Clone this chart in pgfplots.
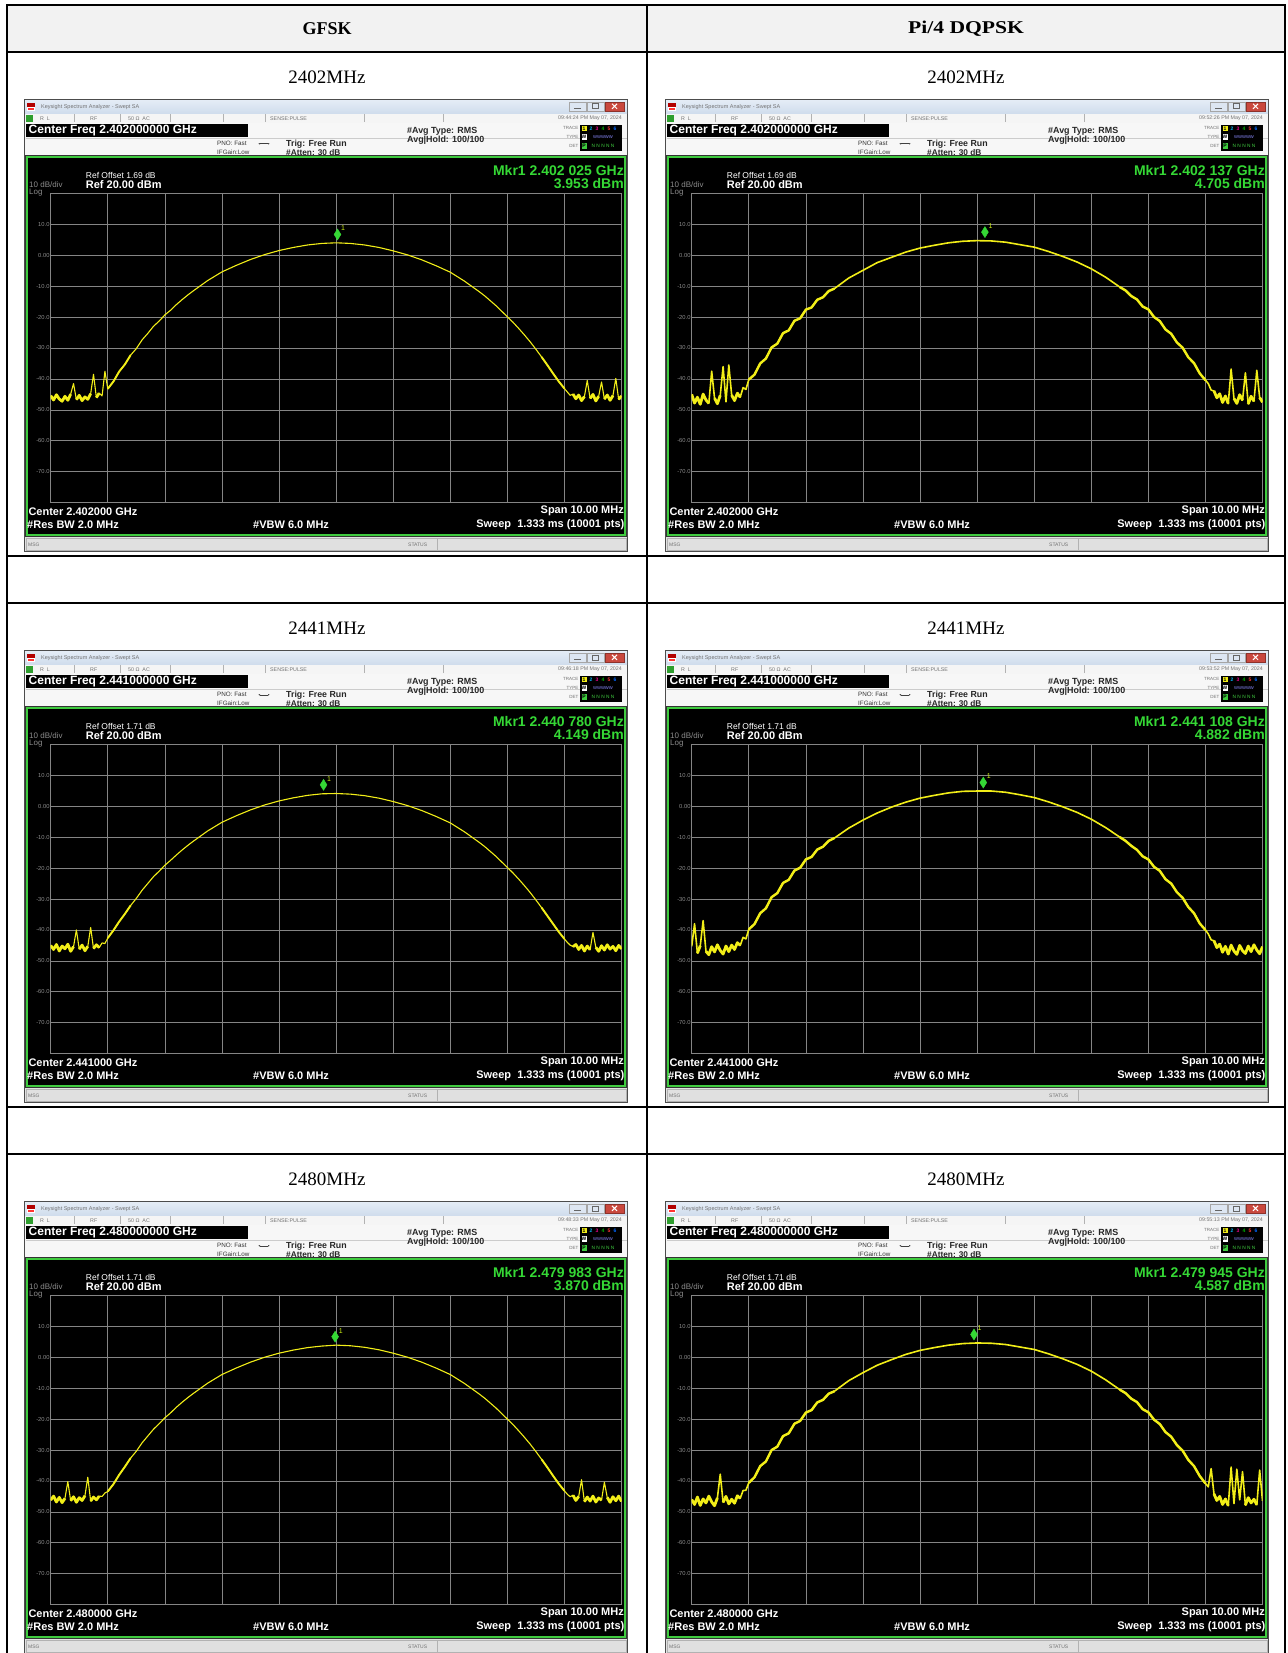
\documentclass[border=0pt]{standalone}
\usepackage{pgfplots}
\pgfplotsset{compat=1.18}
\usepackage{pgfplotstable}
\usetikzlibrary{arrows.meta}
\usepackage{fontspec}
\setmainfont{Liberation Serif}
\newfontfamily\arial{Liberation Sans}
\newcommand{\fs}[1]{\fontsize{#1}{#1}\selectfont}
\definecolor{hdrbg}{HTML}{F2F2F2}
\definecolor{tbTop}{HTML}{E4ECF6}
\definecolor{tbBot}{HTML}{CFDCEC}
\definecolor{closeR}{HTML}{C9483E}
\definecolor{lxi}{HTML}{2E9E2E}
\definecolor{frameG}{HTML}{3FCB3F}
\definecolor{mkgreen}{HTML}{35D835}
\definecolor{tr}{HTML}{F2EE18}
\definecolor{gridgray}{HTML}{858585}
\definecolor{labgray}{HTML}{8C8C8C}

\pgfplotstableread{
x g1 q1 g2 q2 g3 q3
-5.00 -45.4 -45.0 -45.0 -45.3 -46.2 -46.0
-4.95 -46.8 -47.8 -46.3 -38.0 -44.9 -47.6
-4.90 -45.1 -45.9 -44.7 -47.5 -46.8 -45.2
-4.85 -46.5 -48.2 -46.8 -45.1 -45.3 -47.9
-4.80 -47.2 -44.9 -45.2 -37.0 -47.0 -45.8
-4.75 -45.6 -46.8 -46.1 -46.9 -45.6 -47.1
-4.70 -46.9 -47.9 -44.6 -48.0 -40.2 -44.9
-4.65 -44.9 -37.5 -46.9 -45.4 -46.4 -46.8
-4.60 -41.5 -46.2 -45.4 -47.1 -45.1 -48.0
-4.55 -46.7 -48.0 -40.0 -44.8 -46.9 -45.5
-4.50 -45.3 -45.3 -46.2 -46.6 -45.4 -37.8
-4.45 -47.0 -36.0 -44.9 -47.8 -46.3 -46.9
-4.40 -45.8 -47.4 -46.7 -45.2 -44.8 -45.0
-4.35 -46.6 -35.5 -45.3 -47.0 -38.8 -47.4
-4.30 -44.8 -45.2 -39.2 -44.9 -46.5 -45.9
-4.25 -38.5 -47.0 -46.0 -46.3 -45.2 -47.2
-4.20 -46.0 -44.6 -44.8 -44.1 -46.1 -44.8
-4.15 -44.6 -45.9 -45.7 -45.0 -44.9 -45.6
-4.10 -45.5 -42.8 -44.2 -42.4 -45.0 -43.1
-4.05 -37.5 -43.4 -44.4 -42.9 -43.9 -43.0
-4.00 -43.2 -40.2 -42.6 -39.8 -43.4 -40.6
-3.90 -40.8 -38.6 -40.1 -38.1 -41.0 -38.8
-3.80 -37.6 -35.0 -37.3 -34.6 -38.0 -35.2
-3.70 -35.3 -33.4 -34.8 -33.0 -35.4 -33.7
-3.60 -32.3 -29.8 -32.1 -29.4 -32.6 -30.0
-3.50 -30.2 -28.6 -29.8 -28.1 -30.4 -28.9
-3.40 -27.4 -25.2 -27.2 -24.8 -27.7 -25.5
-3.30 -25.3 -24.3 -25.0 -23.8 -25.5 -24.6
-3.20 -23.0 -21.2 -22.8 -20.8 -23.3 -21.5
-3.10 -21.3 -20.4 -21.0 -19.9 -21.5 -20.6
-3.00 -19.3 -17.6 -19.1 -17.2 -19.6 -17.9
-2.90 -17.8 -16.9 -17.5 -16.4 -18.0 -17.1
-2.80 -16.0 -14.4 -15.8 -14.0 -16.2 -14.6
-2.70 -14.4 -13.6 -14.2 -13.1 -14.6 -13.8
-2.60 -12.9 -11.6 -12.7 -11.2 -13.1 -11.8
-2.50 -11.5 -10.8 -11.3 -10.3 -11.7 -11.0
-2.25 -8.2 -7.4 -8.0 -7.1 -8.4 -7.6
-2.00 -5.4 -4.9 -5.2 -4.5 -5.6 -5.0
-1.75 -3.3 -2.4 -3.1 -2.2 -3.5 -2.6
-1.50 -1.4 -0.7 -1.2 -0.3 -1.6 -0.8
-1.25 0.2 1.0 0.4 1.3 0.0 0.9
-1.00 1.5 2.3 1.7 2.6 1.3 2.2
-0.75 2.5 3.2 2.7 3.5 2.3 3.1
-0.50 3.3 4.0 3.5 4.3 3.1 3.9
-0.25 3.8 4.5 4.0 4.8 3.6 4.4
0.00 4.0 4.7 4.1 4.9 3.9 4.6
0.25 3.8 4.6 3.9 4.9 3.7 4.5
0.50 3.3 4.2 3.4 4.5 3.2 4.1
0.75 2.5 3.4 2.6 3.7 2.4 3.3
1.00 1.4 2.6 1.5 2.8 1.3 2.5
1.25 0.1 1.2 0.2 1.4 0.0 1.1
1.50 -1.5 -0.4 -1.4 -0.2 -1.6 -0.5
1.75 -3.4 -2.2 -3.3 -2.0 -3.5 -2.3
2.00 -5.5 -4.4 -5.4 -4.2 -5.6 -4.5
2.25 -8.4 -7.1 -8.3 -6.9 -8.5 -7.3
2.50 -11.7 -10.3 -11.6 -10.0 -11.8 -10.5
2.60 -13.1 -11.4 -13.0 -11.2 -13.2 -11.6
2.70 -14.7 -13.2 -14.6 -12.8 -14.8 -13.4
2.80 -16.3 -14.3 -16.2 -14.1 -16.4 -14.5
2.90 -18.1 -16.6 -18.0 -16.2 -18.2 -16.8
3.00 -19.9 -17.5 -19.8 -17.2 -20.0 -17.8
3.10 -21.7 -20.0 -21.6 -19.6 -21.8 -20.2
3.20 -23.7 -21.3 -23.6 -20.9 -23.8 -21.6
3.30 -25.8 -24.0 -25.7 -23.6 -25.9 -24.2
3.40 -28.0 -25.4 -27.9 -25.0 -28.1 -25.7
3.50 -30.4 -28.2 -30.3 -27.8 -30.5 -28.4
3.60 -32.9 -29.9 -32.8 -29.6 -33.0 -30.2
3.70 -35.5 -33.0 -35.4 -32.6 -35.6 -33.2
3.80 -38.2 -34.9 -38.0 -34.6 -38.3 -35.2
3.90 -40.8 -38.2 -40.6 -37.9 -40.9 -38.4
4.00 -43.1 -40.4 -42.9 -40.0 -43.2 -40.8
4.05 -44.2 -41.5 -44.0 -41.3 -44.3 -41.9
4.10 -45.3 -43.6 -44.9 -43.2 -45.1 -36.0
4.15 -44.9 -43.9 -45.4 -43.5 -44.6 -44.2
4.20 -46.4 -46.1 -44.7 -45.7 -46.3 -46.3
4.25 -45.2 -44.8 -46.3 -44.6 -45.0 -45.0
4.30 -47.0 -47.6 -45.0 -47.2 -39.6 -47.6
4.35 -45.7 -45.5 -46.8 -45.3 -46.7 -45.8
4.40 -40.5 -48.0 -45.2 -47.8 -45.2 -48.0
4.45 -46.3 -36.8 -46.4 -44.9 -46.5 -35.5
4.50 -45.0 -46.3 -40.8 -46.8 -44.9 -47.3
4.55 -47.1 -47.9 -45.6 -47.9 -46.8 -36.2
4.60 -45.6 -45.1 -46.9 -45.0 -45.5 -46.1
4.65 -41.0 -46.9 -45.1 -46.7 -46.2 -37.0
4.70 -46.5 -38.0 -46.5 -47.6 -40.4 -47.8
4.75 -45.2 -48.1 -44.8 -45.2 -45.3 -45.4
4.80 -46.9 -45.6 -46.2 -47.0 -46.9 -47.1
4.85 -45.4 -47.2 -45.3 -44.8 -45.1 -45.9
4.90 -39.8 -37.2 -46.7 -46.5 -46.4 -47.7
4.95 -46.6 -46.0 -45.0 -47.7 -44.9 -36.5
5.00 -45.5 -47.5 -46.1 -45.4 -46.6 -46.4
}\spectab

\pgfplotsset{specaxis/.style={
  width=570.8pt, height=309.4pt, scale only axis,
  xmin=-5, xmax=5, ymin=-80, ymax=20,
  xtick={-4,-3,...,4}, ytick={-70,-60,...,10},
  xticklabels={},
  yticklabels={-70.0,-60.0,-50.0,-40.0,-30.0,-20.0,-10.0,0.00,10.0},
  yticklabel style={font=\arial\fs{5.8}, text=labgray, inner sep=1pt},
  grid=major, major grid style={draw=gridgray, line width=0.7pt},
  axis line style={draw=gridgray, line width=0.8pt},
  major tick length=0pt,
  axis background/.style={fill=black},
  clip=true}}

% screenshot chrome: #1 x, #2 y, #3 centre long, #4 centre short, #5 ref offset, #6 mkr freq, #7 mkr val, #8 date
\newcommand{\chrome}[8]{%
\begin{scope}[x=1pt,y=1pt,shift={(#1,-#2)}]
\fill[black!70] (0,0) rectangle (604,-453);
\fill[black!80] (1,-56) rectangle (603,-438);
\shade[top color=tbTop, bottom color=tbBot] (1,-1) rectangle (603,-14.5);
\fill[red!70!black] (3,-3.5) rectangle (11,-7.5);
\fill[white] (3,-7.5) rectangle (11,-11.5);
\fill[red!80] (4,-9) rectangle (10,-10.5);
\node[anchor=west,inner sep=0,font=\arial\fs{5.5},text=black!55] at (17,-7.5) {Keysight Spectrum Analyzer - Swept SA};
\draw[black!35,fill=tbBot!70!white] (545,-2.5) rectangle (562,-11.5);
\draw[black!60,line width=0.8pt] (550,-9) -- (557,-9);
\draw[black!35,fill=tbBot!70!white] (563,-2.5) rectangle (580,-11.5);
\draw[black!60,line width=0.6pt] (568.5,-4.5) rectangle (574.5,-9.5);
\draw[closeR!70!black,fill=closeR] (581,-2.5) rectangle (600,-11.5);
\draw[white,line width=1pt] (588,-4.5) -- (593,-9.5) (588,-9.5) -- (593,-4.5);
\fill[black!4] (1,-14.5) rectangle (603,-23.5);
\draw[black!30] (1,-23.5) -- (603,-23.5);
\fill[lxi] (2,-15.5) rectangle (9,-22.5);
\foreach \s in {50.5,96,146,199.5,241,340.6,419.3} \draw[black!30] (\s,-15) -- (\s,-23);
\node[anchor=west,inner sep=0,font=\arial\fs{5.3},text=black!55] at (16,-19) {R\ \ L};
\node[anchor=west,inner sep=0,font=\arial\fs{5.3},text=black!55] at (66,-19) {RF};
\node[anchor=west,inner sep=0,font=\arial\fs{5.3},text=black!55] at (104,-19) {50 Ω\ \ AC};
\node[anchor=west,inner sep=0,font=\arial\fs{5.3},text=black!55] at (246,-19) {SENSE:PULSE};
\node[anchor=east,inner sep=0,font=\arial\fs{5.3},text=black!55] at (598,-19) {#8};
\fill[black!3] (1,-23.5) rectangle (603,-56);
\fill[black] (1.5,-24.5) rectangle (224,-37.5);
\node[anchor=west,inner sep=0,font=\arial\bfseries\fs{12},text=white] at (4.5,-31.2) {Center Freq #3 GHz};
\draw[black!20] (1.5,-38.5) -- (603,-38.5);
\node[anchor=west,inner sep=0,font=\arial\fs{6.3},text=black!80] at (193,-44.5) {PNO: Fast};
\draw[black!75,line width=0.6pt,{Latex[length=2pt]}-{Latex[length=2pt]}] (234,-44.5) -- (246,-44.5);
\node[anchor=west,inner sep=0,font=\arial\fs{6.3},text=black!80] at (193,-52.5) {IFGain:Low};
\node[anchor=west,inner sep=0,font=\arial\bfseries\fs{8.8},text=black!85] at (262,-45) {Trig: Free Run};
\node[anchor=west,inner sep=0,font=\arial\bfseries\fs{8.3},text=black!85] at (262,-53.3) {\#Atten: 30 dB};
\node[anchor=west,inner sep=0,font=\arial\bfseries\fs{8.9},text=black!85] at (383,-32.5) {\#Avg Type: RMS};
\node[anchor=west,inner sep=0,font=\arial\bfseries\fs{8.9},text=black!85] at (383,-40.5) {Avg|Hold: 100/100};
\fill[black] (556,-25.5) rectangle (598,-51.5);
\node[anchor=east,inner sep=0,font=\arial\fs{4.5},text=black!55] at (554.5,-29) {TRACE};
\node[anchor=east,inner sep=0,font=\arial\fs{4.5},text=black!55] at (554.5,-37.5) {TYPE};
\node[anchor=east,inner sep=0,font=\arial\fs{4.5},text=black!55] at (554.5,-46.5) {DET};
\fill[tr] (557.5,-26.5) rectangle (562.5,-32);
\node[inner sep=0,font=\arial\bfseries\fs{5},text=black] at (560,-29.3) {1};
\node[inner sep=0,font=\arial\bfseries\fs{5},text=cyan] at (567,-29.3) {2};
\node[inner sep=0,font=\arial\bfseries\fs{5},text=magenta] at (573,-29.3) {3};
\node[inner sep=0,font=\arial\bfseries\fs{5},text=green!70!black] at (579,-29.3) {4};
\node[inner sep=0,font=\arial\bfseries\fs{5},text=red!80] at (585,-29.3) {5};
\node[inner sep=0,font=\arial\bfseries\fs{5},text=blue!60!cyan] at (591,-29.3) {6};
\fill[white] (557.5,-34.5) rectangle (562.5,-40.5);
\node[inner sep=0,font=\arial\bfseries\fs{5},text=black] at (560,-37.5) {W};
\node[inner sep=0,font=\arial\fs{4.2},text=blue!45!white] at (579,-37.5) {WWWWW};
\fill[frameG] (557.5,-43.5) rectangle (562.5,-49.5);
\node[inner sep=0,font=\arial\bfseries\fs{5},text=black] at (560,-46.5) {P};
\node[inner sep=0,font=\arial\fs{4.8},text=frameG] at (579,-46.5) {N N N N N};
\fill[black] (3,-58) rectangle (601,-436);
\draw[frameG,line width=2pt] (3,-58) rectangle (601,-436);
\node[anchor=east,inner sep=0,font=\arial\bfseries\fs{14},text=mkgreen] at (600,-71.5) {Mkr1 #6 GHz};
\node[anchor=east,inner sep=0,font=\arial\bfseries\fs{14},text=mkgreen] at (600,-84) {#7 dBm};
\node[anchor=west,inner sep=0,font=\arial\fs{8.5},text=white] at (61.7,-76.5) {Ref Offset #5 dB};
\node[anchor=west,inner sep=0,font=\arial\bfseries\fs{11},text=white] at (61.7,-85.5) {Ref 20.00 dBm};
\node[anchor=west,inner sep=0,font=\arial\fs{8},text=black!45] at (5,-85.5) {10 dB/div};
\node[anchor=west,inner sep=0,font=\arial\fs{8},text=black!45] at (5,-93) {Log};
\node[anchor=west,inner sep=0,font=\arial\bfseries\fs{11},text=white] at (4.3,-412.4) {Center #4 GHz};
\node[anchor=west,inner sep=0,font=\arial\bfseries\fs{11},text=white] at (3,-425.7) {\#Res BW 2.0 MHz};
\node[anchor=west,inner sep=0,font=\arial\bfseries\fs{11},text=white] at (229,-425.7) {\#VBW 6.0 MHz};
\node[anchor=east,inner sep=0,font=\arial\bfseries\fs{11},text=white] at (600,-411.5) {Span 10.00 MHz};
\node[anchor=east,inner sep=0,font=\arial\bfseries\fs{11},text=white] at (600.5,-425.5) {Sweep\ \ 1.333 ms (10001 pts)};
\fill[black!12] (1,-438) rectangle (603,-452);
\draw[black!30] (2,-439) rectangle (602,-451);
\draw[black!30] (413,-439) -- (413,-451);
\node[anchor=west,inner sep=0,font=\arial\fs{5},text=black!55] at (4,-445.3) {MSG};
\node[anchor=west,inner sep=0,font=\arial\fs{5},text=black!55] at (384,-445.3) {STATUS};
\end{scope}}

% plot: #1 x, #2 y (plot area NW corner), #3 column, #4 marker x, #5 marker y,
% #6 base width, #7 skirt width, #8 skirt start
\newcommand{\specplot}[8]{%
\begin{axis}[at={(#1pt,-#2pt)}, anchor=north west, specaxis]
\addplot[draw=tr, line width=#6, line join=round, mark=none] table[x=x, y=#3] {\spectab};
\addplot[draw=tr, line width=#7, line join=round, mark=none, restrict x to domain=-4.02:-#8] table[x=x, y=#3] {\spectab};
\addplot[draw=tr, line width=#7, line join=round, mark=none, restrict x to domain=#8:4.02] table[x=x, y=#3] {\spectab};
\addplot[draw=tr, line width=2.8pt, line join=round, mark=none, restrict x to domain=-5:-4.12, restrict y to domain=-60:-42.5] table[x=x, y=#3] {\spectab};
\addplot[draw=tr, line width=2.8pt, line join=round, mark=none, restrict x to domain=4.12:5, restrict y to domain=-60:-42.5] table[x=x, y=#3] {\spectab};
\addplot[only marks, mark=diamond*, mark size=4.6pt, mark options={draw=mkgreen, fill=mkgreen, yshift=8.5pt, yscale=1.2}] coordinates {(#4,#5)};
\node[anchor=south west, inner sep=0, font=\arial\fs{7}, text=tr!85!green] at (axis cs:#4,#5) [xshift=3.5pt, yshift=12pt] {1};
\end{axis}}

\begin{document}
\begin{tikzpicture}
\path[use as bounding box] (0pt,0pt) rectangle (1287pt,-1653pt);
\clip (0pt,0pt) rectangle (1287pt,-1653pt);
\fill[white] (0pt,0pt) rectangle (1287pt,-1653pt);
\begin{scope}[x=1pt,y=1pt]
\fill[hdrbg] (6.7,-5) rectangle (1285,-51.7);
\draw[line width=1.8pt] (6.7,-5) -- (1285,-5);
\foreach \yy in {51.7,556,602.7,1107,1153.7} \draw[line width=1.8pt] (6.7,-\yy) -- (1285,-\yy);
\draw[line width=1.8pt] (6.7,-4.1) -- (6.7,-1660);
\draw[line width=1.8pt] (647.3,-4.1) -- (647.3,-1660);
\draw[line width=1.8pt] (1285,-4.1) -- (1285,-1660);
\node[font=\bfseries\fs{18}] at (327,-28.5) {GFSK};
\node[font=\bfseries\fs{18}, xscale=1.2] at (966,-28.5) {Pi/4 DQPSK};
\node[font=\fs{19}] at (327,-77) {2402MHz};
\node[font=\fs{19}] at (966,-77) {2402MHz};
\node[font=\fs{19}] at (327,-628) {2441MHz};
\node[font=\fs{19}] at (966,-628) {2441MHz};
\node[font=\fs{19}] at (327,-1179) {2480MHz};
\node[font=\fs{19}] at (966,-1179) {2480MHz};
\end{scope}
\chrome{24}{99.3}{2.402000000}{2.402000}{1.69}{2.402 025}{3.953}{09:44:24 PM May 07, 2024}
\chrome{665}{99.3}{2.402000000}{2.402000}{1.69}{2.402 137}{4.705}{09:52:26 PM May 07, 2024}
\chrome{24}{650.3}{2.441000000}{2.441000}{1.71}{2.440 780}{4.149}{09:46:18 PM May 07, 2024}
\chrome{665}{650.3}{2.441000000}{2.441000}{1.71}{2.441 108}{4.882}{09:53:52 PM May 07, 2024}
\chrome{24}{1201.3}{2.480000000}{2.480000}{1.71}{2.479 983}{3.870}{09:48:33 PM May 07, 2024}
\chrome{665}{1201.3}{2.480000000}{2.480000}{1.71}{2.479 945}{4.587}{09:55:13 PM May 07, 2024}
\specplot{50.7}{193.3}{g1}{0.025}{3.953}{1.1pt}{1.9pt}{3.55}
\specplot{691.7}{193.3}{q1}{0.137}{4.705}{1.6pt}{2.4pt}{2.45}
\specplot{50.7}{744.3}{g2}{-0.220}{4.149}{1.1pt}{1.9pt}{3.55}
\specplot{691.7}{744.3}{q2}{0.108}{4.882}{1.6pt}{2.4pt}{2.45}
\specplot{50.7}{1295.3}{g3}{-0.017}{3.870}{1.1pt}{1.9pt}{3.55}
\specplot{691.7}{1295.3}{q3}{-0.055}{4.587}{1.6pt}{2.4pt}{2.45}
\end{tikzpicture}
\end{document}
